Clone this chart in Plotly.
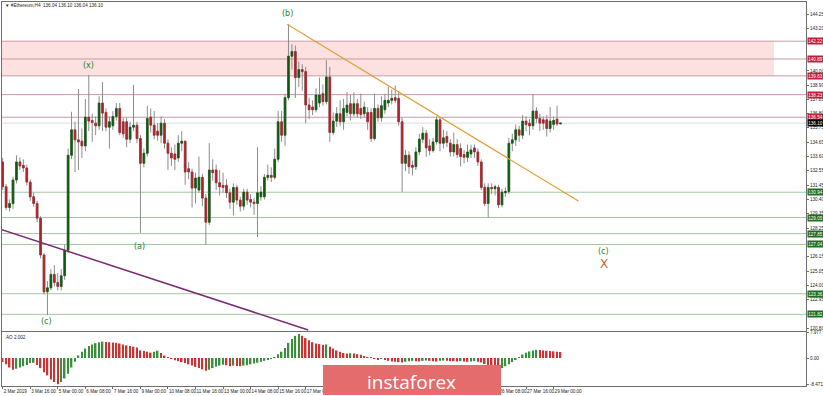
import pandas as pd
import plotly.graph_objects as go

# ---------------- data ----------------
start = pd.Timestamp("2019-03-02 08:00")
times = list(pd.date_range(start, periods=163, freq="4h"))

open_ = [133.20,131.35,129.80,130.10,131.85,133.20,132.95,132.75,131.70,130.60,
         130.10,129.00,126.25,123.50,123.80,124.80,124.20,123.90,124.70,126.60,
         133.70,135.60,134.85,134.75,134.40,136.55,136.30,136.10,135.90,137.60,
         136.90,135.80,135.90,136.60,137.20,136.20,136.20,134.90,135.80,135.95,
         134.95,133.10,133.85,136.55,135.95,135.50,135.20,136.10,134.60,133.85,
         133.80,133.50,134.60,134.75,132.70,132.45,131.25,131.10,132.05,130.50,
         128.70,132.60,132.60,131.65,131.45,131.45,130.90,130.20,131.30,130.35,
         129.90,130.95,130.40,130.20,130.10,130.60,130.60,132.05,132.20,132.05,
         133.40,136.20,135.20,138.00,141.10,141.45,139.50,140.10,139.95,137.45,
         137.30,137.10,137.60,138.30,137.70,139.55,135.40,136.25,136.80,136.20,
         136.90,137.55,136.80,137.55,137.20,136.80,136.90,136.90,134.95,137.20,
         136.50,137.10,137.60,137.80,138.00,137.95,136.20,133.10,133.70,132.95,
         132.85,133.95,134.90,135.35,134.40,134.05,134.70,136.35,134.60,135.10,
         134.60,133.95,134.50,134.20,133.75,133.55,133.80,134.25,133.95,133.20,
         131.30,130.10,131.30,131.20,131.30,130.00,130.90,131.00,134.60,134.85,
         135.60,135.20,136.25,136.10,135.90,137.00,136.45,136.35,136.35,135.70,
         136.00,136.40,136.04]
high = [133.50,131.55,130.40,132.10,133.70,133.55,133.40,133.00,131.90,130.90,
        130.30,129.15,126.40,124.30,125.20,125.50,124.90,125.20,127.00,134.20,
        136.95,136.20,138.65,135.70,137.90,139.70,136.80,136.60,138.10,139.17,
        137.20,136.60,137.00,137.60,137.60,136.50,136.50,136.20,138.95,136.20,
        135.20,134.20,137.40,137.20,137.00,136.10,136.60,136.40,134.90,134.30,
        134.50,135.20,135.50,134.80,133.20,132.70,132.40,133.60,132.30,130.80,
        134.60,133.40,133.00,132.60,132.40,131.90,131.20,131.60,131.50,130.60,
        131.20,131.20,130.80,130.50,134.30,131.40,132.30,133.00,132.80,134.20,
        137.00,137.00,138.30,143.50,142.00,141.90,140.70,140.50,140.30,138.00,
        137.80,138.70,139.50,139.00,140.80,140.30,136.90,137.30,137.80,137.90,
        138.40,138.20,138.40,137.90,138.30,137.70,137.30,137.20,138.30,137.50,
        138.10,138.30,138.80,138.60,138.90,138.50,136.50,134.10,134.00,133.30,
        134.30,135.30,135.80,135.60,134.90,135.00,136.60,136.50,135.60,135.50,
        134.90,135.40,134.90,134.60,134.10,134.50,134.50,134.50,134.20,133.40,
        131.60,131.60,131.60,131.50,131.50,131.20,131.30,135.00,135.30,136.00,
        135.90,136.70,136.60,136.40,138.25,137.30,136.80,136.60,136.70,137.30,
        136.60,137.40,136.10]
low = [131.10,129.60,129.50,129.70,131.60,132.60,132.45,131.45,130.30,129.85,
       128.70,126.00,123.30,121.75,123.60,123.90,123.60,123.60,124.40,126.40,
       133.40,132.45,132.60,133.50,134.00,135.50,134.70,135.20,135.60,135.50,
       135.50,134.20,135.60,136.30,135.20,135.00,134.30,134.60,135.50,134.60,
       127.90,132.80,133.60,135.40,134.90,134.80,134.60,134.20,132.60,132.90,
       132.60,133.20,134.00,131.50,131.90,129.80,130.10,130.90,129.90,127.00,
       128.50,131.80,131.10,130.70,130.90,130.50,129.70,129.20,130.00,129.50,
       129.60,130.00,129.80,129.25,127.60,130.30,130.40,131.80,131.70,131.90,
       133.20,134.70,134.40,137.80,140.10,137.98,138.80,138.50,136.10,136.40,
       136.70,136.90,137.30,137.40,137.50,134.70,135.20,135.80,135.90,135.60,
       136.60,136.30,136.60,136.50,136.40,136.50,135.60,134.70,134.80,136.20,
       136.20,136.80,137.30,137.50,137.60,135.90,130.96,132.50,132.30,132.20,
       132.60,133.70,134.60,133.60,133.70,133.90,134.50,134.00,134.20,134.30,
       133.60,133.60,133.50,132.85,133.10,133.20,133.50,133.50,132.90,131.10,
       129.90,129.05,130.80,130.70,129.75,129.80,130.60,130.80,134.00,134.40,
       134.70,134.90,135.50,135.20,135.60,136.10,135.50,135.60,135.10,135.40,
       135.60,135.90,136.04]
close = [131.35,129.80,130.10,131.85,133.20,132.90,132.75,131.70,130.60,130.10,
         129.00,126.25,123.50,123.80,124.80,124.20,123.90,124.70,126.60,133.70,
         135.60,134.85,134.70,134.40,136.55,136.25,136.15,135.90,137.60,136.85,
         135.80,136.20,136.60,137.20,135.40,135.30,134.90,135.80,135.95,134.95,
         133.10,133.85,136.45,135.95,135.20,135.20,136.10,134.60,133.85,133.50,
         133.40,134.60,134.75,132.45,132.45,131.25,132.00,132.05,130.50,128.70,
         132.60,132.40,131.65,131.35,131.30,130.90,130.20,131.30,130.35,129.90,
         130.95,130.35,130.20,130.10,130.90,130.95,132.05,132.20,132.05,133.40,
         136.20,135.20,138.00,141.10,141.45,139.50,140.10,139.95,137.45,137.10,
         137.10,138.20,138.20,137.70,139.55,135.40,136.25,136.80,136.20,137.20,
         137.45,136.80,137.55,136.80,136.75,137.30,136.20,134.95,137.20,136.50,
         137.40,137.80,137.80,137.95,137.80,136.20,133.10,133.70,132.85,132.80,
         133.95,134.90,135.35,134.25,134.05,134.70,136.35,134.60,135.00,134.65,
         133.95,134.50,133.75,133.60,133.55,133.95,134.10,133.95,133.20,131.30,
         130.10,131.30,131.20,131.35,130.00,130.95,131.00,134.60,134.85,135.60,
         135.20,136.25,136.00,135.90,137.00,136.45,136.10,136.10,135.70,136.25,
         136.30,136.04,136.10]

ao = [-1.3,-2.0,-3.0,-3.7,-3.4,-3.0,-2.6,-2.2,-1.6,-1.5,
      -2.2,-3.2,-4.5,-5.5,-6.8,-7.6,-8.3,-7.6,-6.5,-5.0,
      -3.0,-1.2,0.8,2.0,3.0,3.8,4.3,4.7,5.0,5.2,
      5.1,5.0,4.9,4.8,4.6,4.3,4.0,3.8,3.6,3.3,
      2.4,2.2,2.0,1.7,2.0,2.3,1.6,0.8,0.2,-0.3,
      -0.7,-1.0,-1.3,-1.6,-2.0,-2.4,-2.8,-3.2,-3.6,-4.0,
      -3.7,-3.2,-2.8,-2.4,-2.1,-2.3,-2.6,-2.4,-2.5,-2.6,
      -2.4,-2.3,-2.0,-1.7,-1.5,-1.2,-0.9,-0.5,-0.1,0.3,
      1.2,2.0,3.2,4.8,6.0,7.0,7.6,7.0,6.3,5.6,
      5.0,4.6,4.4,4.2,4.3,3.6,3.0,2.4,2.0,1.6,
      1.4,1.5,1.4,1.2,1.0,0.6,0.3,0.1,-0.3,-0.5,
      -0.3,-0.4,-0.9,-1.1,-1.2,-1.3,-1.4,-1.2,-1.0,-0.9,
      -1.0,-1.1,-0.9,-0.8,-0.9,-1.0,-1.1,-0.9,-0.8,-0.9,
      -1.0,-1.0,-1.1,-1.0,-1.1,-1.2,-1.1,-1.0,-1.2,-1.4,
      -1.9,-2.5,-3.0,-3.4,-3.6,-3.2,-2.6,-2.0,-1.3,-0.6,
      0.3,1.1,1.7,2.1,2.4,2.6,2.5,2.4,2.3,2.2,
      2.1,2.0,1.9]

# date labels that the reference shows (the ones under the logo are hidden)
date_tick_bars = [0, 8, 16, 24, 32, 40, 48, 56, 64, 72, 80, 88, 144, 152, 160]
date_tick_text = ["2 Mar 2019", "3 Mar 16:00", "5 Mar 00:00", "6 Mar 08:00",
                  "7 Mar 16:00", "9 Mar 00:00", "10 Mar 08:00", "11 Mar 16:00",
                  "13 Mar 00:00", "14 Mar 08:00", "15 Mar 16:00", "17 Mar 00:00",
                  "26 Mar 08:00", "27 Mar 16:00", "29 Mar 00:00"]
price_ticks = [144.25, 143.20, 140.00, 138.90, 137.85, 136.80,
               135.75, 134.65, 133.60, 132.55, 131.45, 130.40, 129.35, 128.25,
               126.15, 125.05, 124.00, 122.95, 120.80]
ao_ticks = [7.977, 0.0, -8.471]
ao_tick_text = ["7.977", "0.00", "-8.471"]
resistance = [142.22, 140.89, 139.63, 138.23, 136.54]
support = [130.94, 129.05, 127.85, 127.04, 123.36, 121.82]
last_price = 136.10
title_text = "▼ #Ethereum,H4  136.04 136.10 136.04 136.10"
ao_label = "AO 2.002"

# ---------------- helpers ----------------
W, H = 823, 396
L, R, T, B = 2, 17, 2, 10
PW, PH = W - L - R, H - T - B


def xp(px):
    return (px - L) / PW


def yp(py):
    return (H - B - py) / PH


def bt(k):
    return start + pd.Timedelta(hours=4 * k)


FONT = "Liberation Sans"
GREEN_TXT = "#2f7d2f"
SMALL = 4.6

fig = go.Figure()

# wicks
fig.add_trace(go.Candlestick(
    x=times, open=open_, high=high, low=low, close=close,
    increasing=dict(line=dict(color="#8c8c8c", width=1), fillcolor="#8c8c8c"),
    decreasing=dict(line=dict(color="#8c8c8c", width=1), fillcolor="#8c8c8c"),
    xaxis="x", yaxis="y", showlegend=False, hoverinfo="skip"))
# bodies
body_hi = [max(o, c) for o, c in zip(open_, close)]
body_lo = [min(o, c) for o, c in zip(open_, close)]
fig.add_trace(go.Candlestick(
    x=times, open=open_, high=body_hi, low=body_lo, close=close,
    increasing=dict(line=dict(color="#0f5a10", width=0.6), fillcolor="#0f5a10"),
    decreasing=dict(line=dict(color="#b0222a", width=0.6), fillcolor="#b0222a"),
    xaxis="x", yaxis="y", showlegend=False))

# AO histogram
ao_colors = ["#3a8f3a" if (i > 0 and v > ao[i - 1]) else "#cc3333"
             for i, v in enumerate(ao)]
fig.add_trace(go.Bar(x=times, y=ao, marker=dict(color=ao_colors, line=dict(width=0)),
                     width=4 * 3600 * 1000 * 0.45, xaxis="x2", yaxis="y2",
                     showlegend=False))

shapes = []
# resistance band
shapes.append(dict(type="rect", xref="x domain", yref="y", x0=0, x1=xp(774),
                   y0=resistance[2], y1=resistance[0],
                   fillcolor="rgba(252,200,200,0.55)", line=dict(width=0), layer="below"))
for v in resistance:
    shapes.append(dict(type="line", xref="x domain", yref="y", x0=0, x1=1, y0=v, y1=v,
                       line=dict(color="#c79aa4", width=1), layer="below"))
for v in support:
    shapes.append(dict(type="line", xref="x domain", yref="y", x0=0, x1=1, y0=v, y1=v,
                       line=dict(color="#a3c6a3", width=1), layer="below"))
shapes.append(dict(type="line", xref="x domain", yref="y", x0=0, x1=1,
                   y0=last_price, y1=last_price,
                   line=dict(color="#dcdcdc", width=1), layer="below"))
# trend lines
shapes.append(dict(type="line", xref="x", yref="y", x0=bt(82.6), y0=143.48,
                   x1=bt(167.2), y1=130.28, line=dict(color="#e0a030", width=1.2)))
shapes.append(dict(type="line", xref="x", yref="y", x0=bt(-0.8), y0=128.19,
                   x1=bt(88.75), y1=120.65, line=dict(color="#7a2a72", width=1.5)))
# watermark logo
shapes.append(dict(type="rect", xref="paper", yref="paper", x0=xp(323), x1=xp(501),
                   y0=yp(395), y1=yp(365), fillcolor="#e46c6c",
                   line=dict(width=0), layer="above"))

ann = []
ann.append(dict(xref="paper", yref="paper", x=xp(3), y=yp(5), xanchor="left",
                yanchor="middle", text=title_text, showarrow=False,
                font=dict(family=FONT, size=SMALL, color="#222")))
ann.append(dict(xref="paper", yref="paper", x=xp(4), y=yp(337), xanchor="left",
                yanchor="middle", text=ao_label, showarrow=False,
                font=dict(family=FONT, size=SMALL, color="#222")))
wave = [("(b)", 82.6, 144.32), ("(x)", 24.8, 140.37), ("(a)", 39.6, 126.85),
        ("(c)", 12.6, 121.25), ("(c)", 174.5, 126.55)]
for txt, b, pr in wave:
    ann.append(dict(xref="x", yref="y", x=bt(b), y=pr, text=txt, showarrow=False,
                    font=dict(family="DejaVu Sans", size=8, color=GREEN_TXT)))
ann.append(dict(xref="x", yref="y", x=bt(174.5), y=125.58, text="X", showarrow=False,
                font=dict(family="DejaVu Sans", size=12, color="#c8643c")))


# price label boxes
def price_box(v, color):
    return dict(xref="paper", yref="y", x=1, xanchor="left", xshift=0.5, y=v,
                text=f"{v:.2f}", showarrow=False, bgcolor=color, width=15,
                height=6, borderpad=0,
                font=dict(family=FONT, size=SMALL, color="white"))


for v in resistance:
    ann.append(price_box(v, "#c41e3a"))
for v in support:
    ann.append(price_box(v, "#1e6e1e"))
ann.append(price_box(last_price, "#000000"))
# watermark text
ann.append(dict(xref="paper", yref="paper", x=xp(411), y=yp(382), yanchor="middle",
                text="instaforex", showarrow=False,
                font=dict(family="Open Sans", size=19, color="white")))

LINE = "#6e6e6e"
tickfont = dict(family=FONT, size=SMALL, color="#222")
fig.update_layout(
    width=W, height=H, margin=dict(l=L, r=R, t=T, b=B, autoexpand=False),
    paper_bgcolor="white", plot_bgcolor="white", showlegend=False,
    shapes=shapes, annotations=ann,
    xaxis=dict(type="date", domain=[0, 1], anchor="y", range=[bt(-0.2), bt(233.3)],
               showticklabels=False, showgrid=False, zeroline=False, ticks="",
               showline=True, mirror=True, linecolor=LINE, linewidth=1,
               automargin=False, rangeslider=dict(visible=False)),
    xaxis2=dict(type="date", domain=[0, 1], anchor="y2", matches="x",
                tickvals=[times[i] for i in date_tick_bars], ticktext=date_tick_text,
                ticklabelposition="outside right", tickangle=0, ticks="outside",
                ticklen=2, tickcolor=LINE, showgrid=False, zeroline=False,
                showline=True, mirror=True, linecolor=LINE, linewidth=1,
                tickfont=tickfont, automargin=False,
                rangeslider=dict(visible=False)),
    yaxis=dict(domain=[yp(331), 1], range=[120.576, 145.146], side="right",
               tickvals=price_ticks, ticktext=[f"{v:.2f}" for v in price_ticks],
               ticks="outside", ticklen=2, tickcolor=LINE, showgrid=False,
               zeroline=False, showline=True, mirror=True, linecolor=LINE, linewidth=1,
               tickfont=tickfont, automargin=False),
    yaxis2=dict(domain=[0, yp(332)], range=[-8.86, 8.23], side="right",
                tickvals=ao_ticks, ticktext=ao_tick_text, ticks="outside", ticklen=2,
                tickcolor=LINE, showgrid=False, zeroline=False, showline=True,
                mirror=True, linecolor=LINE, linewidth=1,
                tickfont=tickfont, automargin=False),
    bargap=0.5,
)

fig.write_html("out.html", config={"displayModeBar": False},
               post_script="document.body.style.margin='0';"
                           "document.body.style.overflow='hidden';")
